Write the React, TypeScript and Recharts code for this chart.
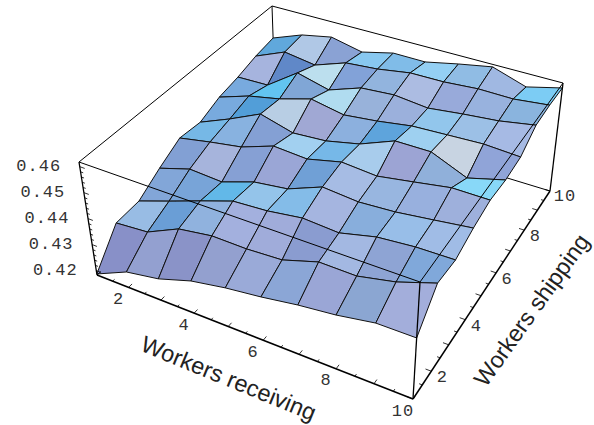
import { Scatter, ScatterChart, XAxis, YAxis } from "recharts"

const workersReceiving = [1, 2, 3, 4, 5, 6, 7, 8, 9, 10]
const workersShipping = [1, 2, 3, 4, 5, 6, 7, 8, 9, 10]

// utilisation for each shipping level, one value per receiving level
const shipping1 = [0.4187, 0.4242, 0.4264, 0.4305, 0.4329, 0.4346, 0.4368, 0.4384, 0.4409, 0.441]
const shipping2 = [0.43, 0.431, 0.4368, 0.4388, 0.4386, 0.4393, 0.4435, 0.4433, 0.4463, 0.4512]
const shipping3 = [0.4305, 0.4348, 0.4393, 0.4437, 0.4445, 0.4464, 0.4455, 0.4488, 0.45, 0.4502]
const shipping4 = [0.4357, 0.4395, 0.4387, 0.443, 0.4447, 0.4499, 0.4487, 0.4495, 0.4512, 0.453]
const shipping5 = [0.4403, 0.4427, 0.4448, 0.4493, 0.4484, 0.4515, 0.4504, 0.4526, 0.4549, 0.4548]
const shipping6 = [0.4395, 0.4447, 0.4506, 0.447, 0.4479, 0.4508, 0.4562, 0.4562, 0.4504, 0.4541]
const shipping7 = [0.4428, 0.447, 0.4496, 0.4534, 0.4509, 0.4524, 0.4545, 0.4551, 0.4557, 0.4549]
const shipping8 = [0.4444, 0.4447, 0.4534, 0.4501, 0.4547, 0.4557, 0.4543, 0.4559, 0.4572, 0.4596]
const shipping9 = [0.4467, 0.4519, 0.45, 0.4545, 0.4556, 0.4577, 0.4578, 0.4588, 0.4586, 0.4601]
const shipping10 = [0.4481, 0.4528, 0.4553, 0.4525, 0.4556, 0.4555, 0.4583, 0.4608, 0.4564, 0.4598]
const surface = [shipping1, shipping2, shipping3, shipping4, shipping5, shipping6, shipping7, shipping8, shipping9, shipping10]

const cellColors = [
  ["#8890c8", "#93a0d0", "#8a93c8", "#93a0cf", "#9aaad8", "#8ba6d6", "#9aa6d6", "#8ba6d2", "#a3aedb"],
  ["#98bce4", "#6a9ed6", "#90b2de", "#a3b0de", "#a0acda", "#8a9cd0", "#a3b8e2", "#8ea4d4", "#80a8da"],
  ["#82a6d8", "#78a4d8", "#62b8e8", "#94c4ea", "#84bce8", "#a5b5e0", "#88aedc", "#98bee8", "#a0bce6"],
  ["#82a0d4", "#a6b4dc", "#86a0d4", "#9aa6d6", "#70a0d6", "#a6bce4", "#98b6e0", "#98b0de", "#9eb0dc"],
  ["#76b8e6", "#88b2e0", "#84a0d4", "#a2d0f0", "#76b8e8", "#a8ccec", "#9ca4d4", "#90b0da", "#88d8f8"],
  ["#78aade", "#529ed8", "#b8cee4", "#a0a8d4", "#8cb0de", "#5ea4dc", "#9ed0f0", "#c8d4e2", "#90a4d8"],
  ["#78aade", "#62c4f0", "#80a6d6", "#b0dcf0", "#98b2da", "#9bb0dc", "#92c6ec", "#9cc0e6", "#a6bae4"],
  ["#a6b4de", "#6088c8", "#bcdfee", "#82a2d8", "#92b4de", "#acbce2", "#98aada", "#98b2de", "#8ab4de"],
  ["#60a8dc", "#b0c8e6", "#8aa2d4", "#88c8f0", "#80bce8", "#94d0f4", "#90bce4", "#a0b8e2", "#7cccf4"],
]

const zTickLabels = [0.42, 0.43, 0.44, 0.45, 0.46]
const xTickLabels = [2, 4, 6, 8, 10]
const yTickLabels = [2, 4, 6, 8, 10]
const halfSteps = [1, 1.5, 2, 2.5, 3, 3.5, 4, 4.5, 5, 5.5, 6, 6.5, 7, 7.5, 8, 8.5, 9, 9.5, 10]
const zMinorTicks = [0.42, 0.422, 0.424, 0.426, 0.428, 0.43, 0.432, 0.434, 0.436, 0.438, 0.44, 0.442, 0.444, 0.446, 0.448, 0.45, 0.452, 0.454, 0.456, 0.458, 0.46]

const Z_MIN = 0.4183
const Z_MAX = 0.4618

// box corners on screen: (x1,y1) (x10,y1) (x10,y10) (x1,y10), floor and ceiling
const floorCorners = [[97, 275], [413, 399], [550, 191], [275.5, 107.6]]
const ceilCorners = [[79, 162], [420, 282], [563, 83], [272, 6]]

function homography(q: number[][]) {
  const [[x0, y0], [x1, y1], [x2, y2], [x3, y3]] = q
  const dx1 = x1 - x2, dx2 = x3 - x2, sx = x0 - x1 + x2 - x3
  const dy1 = y1 - y2, dy2 = y3 - y2, sy = y0 - y1 + y2 - y3
  const den = dx1 * dy2 - dx2 * dy1
  const g = (sx * dy2 - dx2 * sy) / den
  const h = (dx1 * sy - sx * dy1) / den
  const a = x1 - x0 + g * x1, b = x3 - x0 + h * x3
  const d = y1 - y0 + g * y1, e = y3 - y0 + h * y3
  return (u: number, v: number) => {
    const w = g * u + h * v + 1
    return [(a * u + b * v + x0) / w, (d * u + e * v + y0) / w]
  }
}

const floorMap = homography(floorCorners)
const ceilMap = homography(ceilCorners)

// 3d -> flat position, the chart scales take it from there
function project(rec: number, ship: number, z: number, dx = 0, dy = 0) {
  const u = (rec - 1) / 9
  const v = (ship - 1) / 9
  const w = (z - Z_MIN) / (Z_MAX - Z_MIN)
  const b = floorMap(u, v)
  const t = ceilMap(u, v)
  return { x: b[0] + w * (t[0] - b[0]) + dx, y: b[1] + w * (t[1] - b[1]) + dy }
}

const noDot = () => <g />

function segment(key: string, points: { x: number; y: number }[], strokeWidth = 1) {
  return (
    <Scatter
      key={key}
      data={points}
      line={{ stroke: "#000", strokeWidth, fill: "none" }}
      shape={noDot}
      isAnimationActive={false}
    />
  )
}

const textDot = (font: string, size: number, color: string, spacing = 0) => (props: any) => {
  const { cx, cy, payload } = props
  return (
    <text
      x={cx}
      y={cy}
      fontFamily={font}
      fontSize={size}
      fill={color}
      letterSpacing={spacing}
      textAnchor="middle"
      dominantBaseline="central"
      transform={payload.angle ? `rotate(${payload.angle} ${cx} ${cy})` : undefined}
    >
      {payload.label}
    </text>
  )
}
const tickText = textDot("'Liberation Mono', monospace", 17, "#333", 1)
const titleText = textDot("'Liberation Sans', Arial, sans-serif", 23.4, "#222")

const Z0 = Z_MIN
const Z1 = Z_MAX

const cells: any[] = []
for (let j = 8; j >= 0; j--) {
  for (let i = 0; i < 9; i++) {
    const r0 = workersReceiving[i], r1 = workersReceiving[i + 1]
    const s0 = workersShipping[j], s1 = workersShipping[j + 1]
    cells.push({
      key: `cell-${j}-${i}`,
      fill: cellColors[j][i],
      points: [
        project(r0, s0, surface[j][i]),
        project(r1, s0, surface[j][i + 1]),
        project(r1, s1, surface[j + 1][i + 1]),
        project(r0, s1, surface[j + 1][i]),
        project(r0, s0, surface[j][i]),
      ],
    })
  }
}

const tickLabelData = [
  ...zTickLabels.map((z) => ({ ...project(1, 1, z, -41, 0), label: z.toFixed(2) })),
  ...xTickLabels.map((t) => ({ ...project(t, 1, Z0, -10, 12), label: String(t) })),
  ...yTickLabels.map((t) => ({ ...project(10, t, Z0, t === 10 ? 15 : 11, t === 10 ? 5 : 6.5), label: String(t) })),
]

const titleData = [{ ...project(5.5, 1, Z0, -17, 45), label: "Workers receiving", angle: 22.3 }]
const titleData2 = [{ ...project(10, 5.5, Z0, 43, 26), label: "Workers shipping", angle: -54.5 }]

export default function App() {
  return (
    <div style={{ position: "absolute", left: 0, top: 0, width: 594, height: 425, background: "#fff" }}>
      <ScatterChart width={594} height={425} margin={{ top: 0, right: 0, bottom: 0, left: 0 }}>
        <XAxis type="number" dataKey="x" domain={[0, 594]} hide allowDataOverflow />
        <YAxis type="number" dataKey="y" domain={[0, 425]} reversed hide allowDataOverflow />

        {/* back of the box, goes behind the surface */}
        {segment("back-v", [project(1, 10, Z0), project(1, 10, Z1)])}
        {segment("back-x", [project(1, 10, Z0), project(10, 10, Z0)])}
        {segment("back-y", [project(1, 1, Z0), project(1, 10, Z0)])}
        {segment("top-left", [project(1, 1, Z1), project(1, 10, Z1)])}
        {segment("top-back", [project(1, 10, Z1), project(10, 10, Z1)])}

        {cells.map((c) => (
          <Scatter
            key={c.key}
            data={c.points}
            line={{ stroke: "#111", strokeWidth: 1, fill: c.fill, strokeLinejoin: "round" }}
            shape={noDot}
            isAnimationActive={false}
          />
        ))}

        {/* front edges are painted over the surface */}
        {segment("top-front", [project(1, 1, Z1), project(10, 1, Z1)])}
        {segment("top-right", [project(10, 1, Z1), project(10, 10, Z1)])}
        {segment("front-v", [project(10, 1, Z0), project(10, 1, Z1)], 1.3)}
        {segment("right-v", [project(10, 10, Z0), project(10, 10, Z1)], 1.3)}
        {segment("left-v", [project(1, 1, Z0), project(1, 1, Z1)], 1.3)}
        {segment("floor-x", [project(1, 1, Z0), project(10, 1, Z0)], 1.5)}
        {segment("floor-y", [project(10, 1, Z0), project(10, 10, Z0)], 1.5)}

        {halfSteps.map((t) => segment(`xt-${t}`, [project(t, 1, Z0), project(t, Number.isInteger(t) ? 1.15 : 1.08, Z0)], 0.8))}
        {halfSteps.map((t) => segment(`yt-${t}`, [project(10, t, Z0), project(Number.isInteger(t) ? 9.85 : 9.92, t, Z0)], 0.8))}
        {zMinorTicks.map((z, n) => segment(`zt-${z}`, [project(1, 1, z), project(n % 5 === 0 ? 1.15 : 1.08, 1, z)], 0.8))}

        <Scatter data={tickLabelData} shape={tickText} isAnimationActive={false} />
        <Scatter data={titleData} shape={titleText} isAnimationActive={false} />
        <Scatter data={titleData2} shape={titleText} isAnimationActive={false} />
      </ScatterChart>
    </div>
  )
}
